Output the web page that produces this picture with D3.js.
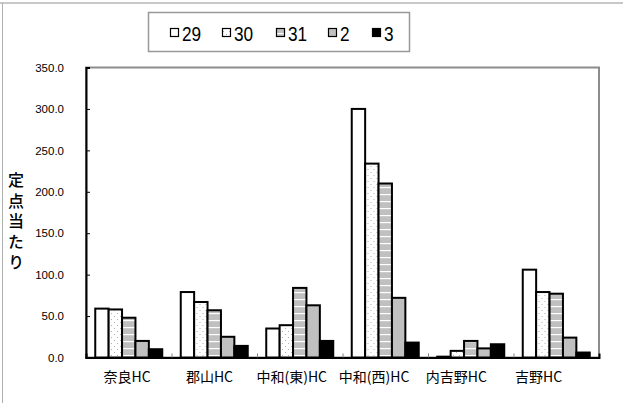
<!DOCTYPE html>
<html>
<head>
<meta charset="utf-8">
<script src="https://cdn.jsdelivr.net/npm/d3@7"></script>
<style>
  html, body { margin: 0; padding: 0; background: #fff; }
  svg { display: block; }
</style>
</head>
<body>
<svg id="chart" width="623" height="403"></svg>
<script>
// 施設別・年度別の定点当たり報告数
const categories = ["奈良HC", "郡山HC", "中和(東)HC", "中和(西)HC", "内吉野HC", "吉野HC"];
const seriesNames = ["29", "30", "31", "2", "3"];
const values29 = [59, 79, 35, 300, 1, 106];
const values30 = [58, 67, 39, 234, 8, 79];
const values31 = [48, 57, 84, 210, 20, 77];
const values2  = [20, 25, 63, 72, 11, 24];
const values3  = [10, 14, 20, 18, 16, 6];
const yTicks = [0, 50, 100, 150, 200, 250, 300, 350];
const yTitle = "定点当たり";

const seriesValues = [values29, values30, values31, values2, values3];
const rows = categories.map((c, i) => ({
  cat: c,
  vals: seriesNames.map((s, j) => ({ key: s, value: seriesValues[j][i] }))
}));

const svg = d3.select("#chart");
const W = 623, H = 403;
const plot = { left: 86, right: 599, top: 67.5, bottom: 357.5 };

// fill patterns for each series
const defs = svg.append("defs");
const dots = defs.append("pattern").attr("id", "p30")
  .attr("patternUnits", "userSpaceOnUse").attr("width", 6).attr("height", 6);
dots.append("rect").attr("width", 6).attr("height", 6).attr("fill", "#fff");
dots.append("rect").attr("x", 1).attr("y", 1).attr("width", 1).attr("height", 1).attr("fill", "#b0b0b0");
dots.append("rect").attr("x", 4).attr("y", 4).attr("width", 1).attr("height", 1).attr("fill", "#b0b0b0");

const stripes = defs.append("pattern").attr("id", "p31")
  .attr("patternUnits", "userSpaceOnUse").attr("width", 8).attr("height", 7);
stripes.append("rect").attr("width", 8).attr("height", 7).attr("fill", "#c0c0c0");
stripes.append("rect").attr("y", 5).attr("width", 8).attr("height", 1.2).attr("fill", "#fff");

const fills = { "29": "#ffffff", "30": "url(#p30)", "31": "url(#p31)", "2": "#c0c0c0", "3": "#000000" };

// outer frame
svg.append("line").attr("x1", 0).attr("x2", W).attr("y1", 3).attr("y2", 3)
  .attr("stroke", "#c8c8c8").attr("stroke-width", 2);
svg.append("line").attr("x1", 2.5).attr("x2", 2.5).attr("y1", 3).attr("y2", H)
  .attr("stroke", "#b0b0b0").attr("stroke-width", 1);

// scales
const x0 = d3.scaleBand().domain(categories).range([plot.left, plot.right]).padding(0);
const x1 = d3.scaleBand().domain(seriesNames).range([0, x0.bandwidth()])
  .paddingInner(0).paddingOuter(0.69);
const y = d3.scaleLinear().domain([0, 350]).range([plot.bottom, plot.top]);

// plot area border
svg.append("rect")
  .attr("x", plot.left).attr("y", plot.top)
  .attr("width", plot.right - plot.left).attr("height", plot.bottom - plot.top)
  .attr("fill", "none").attr("stroke", "#8c8c8c").attr("stroke-width", 2);

// bars
const groups = svg.append("g").selectAll("g").data(rows).join("g")
  .attr("transform", d => `translate(${x0(d.cat)},0)`);
groups.selectAll("rect").data(d => d.vals).join("rect")
  .attr("x", d => x1(d.key))
  .attr("y", d => y(d.value))
  .attr("width", x1.bandwidth())
  .attr("height", d => y(0) - y(d.value))
  .attr("fill", d => fills[d.key])
  .attr("stroke", "#000").attr("stroke-width", 2);

// y axis
const yAxis = d3.axisRight(y).tickValues(yTicks).tickSize(4).tickFormat(d3.format(".1f"));
const gy = svg.append("g").attr("transform", `translate(${plot.left},0)`).call(yAxis);
gy.select(".domain").attr("stroke", "#000").attr("stroke-width", 2);
gy.selectAll(".tick line").attr("stroke", "#000").attr("stroke-width", 1);
gy.selectAll(".tick text")
  .attr("x", -22).attr("text-anchor", "end")
  .attr("font-family", "'Liberation Sans', Arial, sans-serif")
  .attr("font-size", 11.5).attr("fill", "#000");

// x axis: dividers between categories
const gx = svg.append("g").attr("transform", `translate(0,${plot.bottom})`)
  .call(d3.axisTop(d3.scaleLinear().domain([0, categories.length]).range([plot.left, plot.right]))
    .tickValues(d3.range(1, categories.length)).tickSize(4).tickFormat(""));
gx.select(".domain").attr("stroke", "#000").attr("stroke-width", 2);
gx.selectAll(".tick line").attr("stroke", "#808080");

// category labels
const xLabel = d3.scaleBand().domain(categories).range([plot.left, plot.left + 6 * 82.3]);
svg.append("g").attr("transform", `translate(0,${plot.bottom + 24})`)
  .call(d3.axisBottom(xLabel).tickSize(0))
  .call(g => g.select(".domain").remove())
  .selectAll("text")
  .attr("y", 0).attr("dy", 0)
  .attr("font-family", "'Noto Sans CJK JP', sans-serif")
  .attr("font-size", 14).attr("fill", "#000");

// y title, set vertically
svg.append("text")
  .attr("x", 16).attr("y", 172)
  .style("writing-mode", "vertical-rl")
  .style("letter-spacing", "4.6px")
  .attr("font-family", "'Noto Sans CJK JP', sans-serif")
  .attr("font-weight", 500).attr("font-size", 16)
  .text(yTitle);

// legend
const legend = svg.append("g");
legend.append("rect").attr("x", 148.5).attr("y", 12.5).attr("width", 261).attr("height", 39)
  .attr("fill", "#fff").attr("stroke", "#999").attr("stroke-width", 1.5);
const legendX = [170, 222, 276, 328, 372];
const items = legend.selectAll("g.item").data(seriesNames).join("g").attr("class", "item")
  .attr("transform", (d, i) => `translate(${legendX[i]},0)`);
items.append("rect").attr("x", 0.5).attr("y", 28.5).attr("width", 8).attr("height", 8)
  .attr("fill", d => fills[d]).attr("stroke", "#000").attr("stroke-width", 1.2);
items.append("text")
  .attr("transform", "translate(12,41) scale(0.82,1)")
  .attr("font-family", "'Liberation Sans', Arial, sans-serif")
  .attr("font-size", 21).attr("fill", "#000")
  .text(d => d);
</script>
</body>
</html>
